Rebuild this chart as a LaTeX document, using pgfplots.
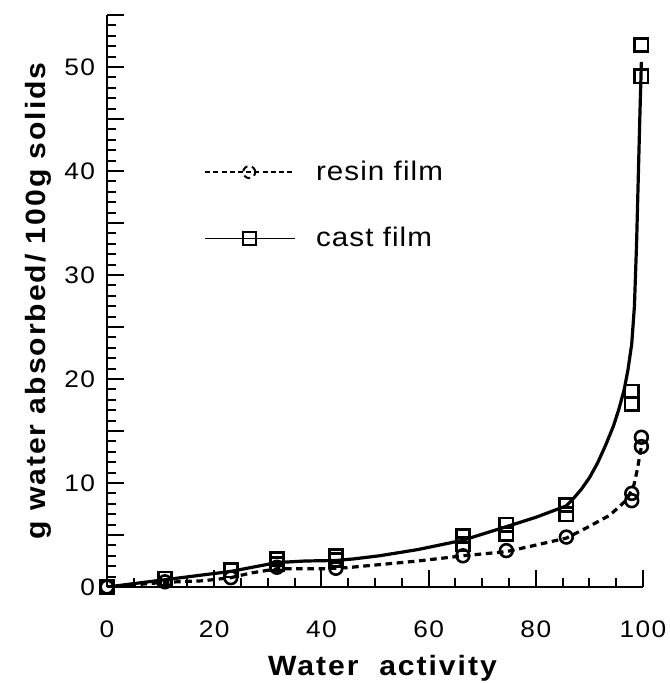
\documentclass[border=0pt]{standalone}
\usepackage{fontspec}
\setmainfont{Liberation Sans}
\newfontfamily\tickfont[LetterSpace=6,FakeStretch=1.1]{Liberation Sans}
\newfontfamily\labfont[LetterSpace=7,FakeStretch=1.08]{Liberation Sans}
\newfontfamily\legfont[LetterSpace=4,FakeStretch=1.1]{Liberation Sans}
\usepackage{pgfplots}
\pgfplotsset{compat=1.18}

\pgfplotstableread{
x     y
0     0
10.8  0.8
23.1  1.6
31.7  2.7
31.7  2.2
42.7  3.0
42.7  2.6
66.4  4.9
66.4  4.1
74.5  6.0
74.5  5.1
85.7  7.9
85.7  7.0
97.9  18.8
97.9  17.6
99.7  52.1
99.7  49.1
}\castpts
\pgfplotstableread{
x     y
0     0
10.8  0.5
23.1  0.9
31.7  1.9
42.7  1.8
66.4  3.0
74.5  3.5
85.7  4.8
97.9  9.0
97.9  8.3
99.7  14.4
99.7  13.5
}\resinpts
% fitted curves as drawn in the figure
\pgfplotstableread{
x     y
0     0
10.8  0.7
23.1  1.5
31.7  2.35
37    2.5
42.7  2.55
46    2.7
50.8  3.0
58    3.6
66.4  4.5
74.5  5.8
80    6.7
85.7  7.8
87    8.5
88.5  9.4
90    10.5
91.5  11.9
93    13.6
94.5  15.5
95.5  17.1
96.5  19.0
97.2  20.9
97.9  23.4
98.4  27
98.8  33
99.1  39
99.4  45
99.7  50.5
}\castfit
\pgfplotstableread{
x     y
0     0
10.8  0.45
18    0.6
23.1  0.9
26.9  1.35
31.7  1.75
40    1.75
44.6  1.85
50.8  2.15
58    2.5
66.4  3.0
74.5  3.4
78.9  3.9
85.7  4.7
89.5  5.7
93.8  6.9
97    8.4
98.3  9.8
98.9  11.2
99.7  13.5
}\resinfit

\begin{document}
\begin{tikzpicture}
\begin{axis}[
  name=main, at={(0,0)}, anchor=south west,
  scale only axis, width=268bp, height=286bp,
  xmin=0, xmax=100, ymin=0, ymax=55,
  axis lines*=left,
  axis line style={line width=1.2bp},
  tick align=inside,
  xtick={0,20,...,100}, minor x tick num=3,
  ytick={0,5,...,55}, yticklabels={0,,10,,20,,30,,40,,50,},
  minor y tick num=4,
  major tick length=8.5bp, minor tick length=4.5bp,
  every tick/.style={black, line width=1bp},
  /pgf/number format/assume math mode=true,
  tick label style={font=\tickfont\fontsize{12}{14}\selectfont},
  xticklabel style={anchor=base, yshift=-25bp},
  yticklabel style={xshift=-2.5bp},
  every axis x label/.style={at={(axis description cs:0.514,0)}, anchor=base, yshift=-44bp},
  every axis y label/.style={at={(axis description cs:-0.128,0.5)}, anchor=center, rotate=90},
  xlabel={Water\ \ activity},
  ylabel={g\ water\ absorbed/\ 100g\ solids},
  label style={font=\labfont\bfseries\fontsize{14}{16}\selectfont},
  legend style={at={(axis cs:18.1,36.7)}, anchor=west, draw=none, fill=none,
    inner sep=0pt, row sep=18bp, font=\legfont\fontsize{13.5}{15}\selectfont,
    /tikz/every odd column/.style={column sep=8bp}},
  legend cell align=left,
]
\addplot[black, line width=1.6bp, dash pattern=on 3.3bp off 2.3bp,
  legend image code/.code={
    \draw[black, line width=0.8bp, dash pattern=on 2.5bp off 1.6bp] (0bp,0bp) -- (45bp,0bp);
    \draw[black, line width=1bp] plot[mark=o, mark size=3bp] coordinates {(22bp,0bp)};}]
  table {\resinfit};
\addlegendentry{resin film}
\addplot[black, line width=1.6bp,
  legend image code/.code={
    \draw[black, line width=0.8bp] (0bp,0bp) -- (45bp,0bp);
    \draw[black, line width=1bp] plot[mark=square, mark size=3.2bp] coordinates {(22bp,0bp)};}]
  table {\castfit};
\addlegendentry{cast film}
\addplot[only marks, mark=o, mark size=3.2bp, black, line width=1.3bp, forget plot] table {\resinpts};
\addplot[only marks, mark=square, mark size=3.3bp, black, line width=1.3bp, forget plot] table {\castpts};
\end{axis}
\pgfresetboundingbox
\path[use as bounding box] (main.south west) ++(-53.5bp,-48bp) rectangle ++(335bp,341.5bp);
\end{tikzpicture}
\end{document}
